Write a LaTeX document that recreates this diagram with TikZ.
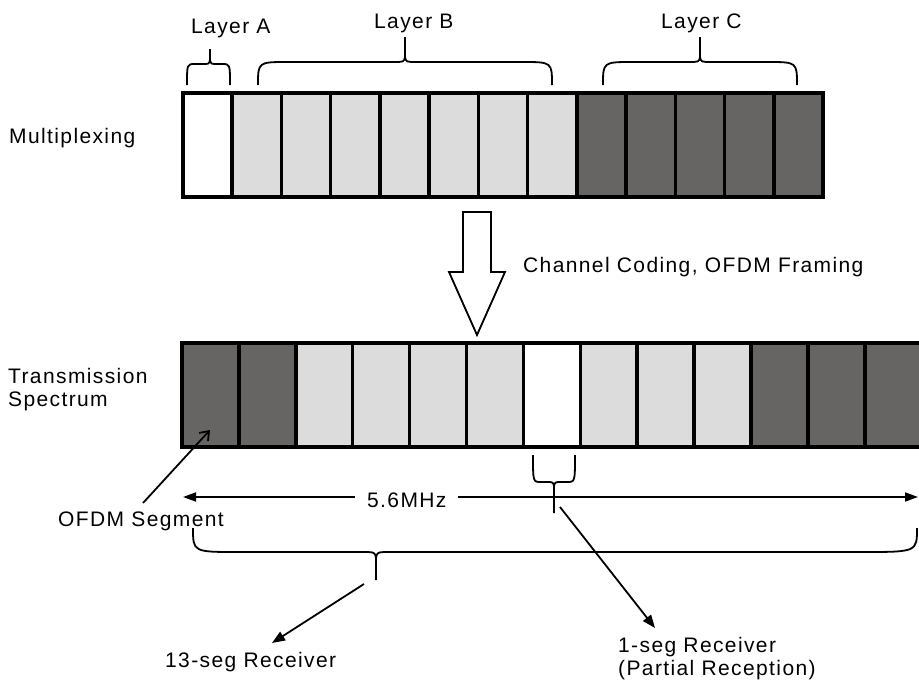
\documentclass[tikz,border=0pt]{standalone}
\usepackage{fontspec}
\setmainfont{Liberation Sans}[LetterSpace=6.6]
\usetikzlibrary{arrows.meta}
\definecolor{lg}{RGB}{220,220,220}
\definecolor{dg}{RGB}{102,101,99}
\tikzset{
  lbl/.style={inner sep=0pt, anchor=base west, font=\fontsize{21}{23}\selectfont},
  cellline/.style={line width=3.5pt},
  brc/.style={line width=1.8pt, line join=round},
  conn/.style={line width=1.8pt},
  filltip/.style={-{Triangle[length=13pt,width=10pt]}},
  opentip/.style={-{Straight Barb[length=8pt,width=12pt,line width=1.8pt]}},
}
\begin{document}
\begin{tikzpicture}[x=1pt,y=-1pt]
\useasboundingbox (0,0) rectangle (919,680);

% ---------- top bar (Multiplexing) ----------
\def\tx{183}\def\tw{49.23}
\foreach \i in {1,...,7}{\fill[lg] ({\tx+\i*\tw},93) rectangle ({\tx+(\i+1)*\tw},197);}
\foreach \i in {8,...,12}{\fill[dg] ({\tx+\i*\tw},93) rectangle ({\tx+(\i+1)*\tw},197);}
\foreach \i in {1,...,12}{\draw[cellline] ({\tx+\i*\tw},93) -- ({\tx+\i*\tw},197);}
\draw[cellline] (183,93) rectangle (823,197);

% ---------- bottom bar (Transmission spectrum) ----------
\def\bx{182}\def\bw{56.9}
\foreach \i in {0,1,10,11,12}{\fill[dg] ({\bx+\i*\bw},343) rectangle ({\bx+(\i+1)*\bw},447);}
\foreach \i in {2,3,4,5,7,8,9}{\fill[lg] ({\bx+\i*\bw},343) rectangle ({\bx+(\i+1)*\bw},447);}
\foreach \i in {1,...,12}{\draw[cellline] ({\bx+\i*\bw},343) -- ({\bx+\i*\bw},447);}
\draw[cellline] (182,343) rectangle (922,447);

% ---------- labels ----------
\node[lbl] (mux) at (9,143) {Multiplexing};
\node[lbl, align=left] (tsp) at (8,406) {Transmission\\Spectrum};
\node[lbl] (la) at (191,33) {Layer A};
\node[lbl] (lb) at (374,28) {Layer B};
\node[lbl] (lc) at (661,28) {Layer C};
\node[lbl] (cc) at (523,272) {Channel Coding, OFDM Framing};
\node[lbl] (seg) at (58,526) {OFDM Segment};
\node[lbl] (r13) at (165,667) {13-seg Receiver};
\node[lbl, align=left] (r1) at (618,675) {1-seg Receiver\\(Partial Reception)};

% ---------- top braces ----------
% Layer A
\draw[brc] (187,85) .. controls (187,64) .. (195,64) -- (203,64) .. controls (209,64) .. (210,60) -- (210,49);
\draw[brc] (230,85) .. controls (230,64) .. (222,64) -- (217,64) .. controls (211,64) .. (210,60);
% Layer B
\draw[brc] (258,85) .. controls (258,62) .. (288,62) -- (393,62) .. controls (404,62) .. (405,57) -- (405,37);
\draw[brc] (552,85) .. controls (552,62) .. (522,62) -- (417,62) .. controls (406,62) .. (405,57);
% Layer C
\draw[brc] (603,85) .. controls (603,62) .. (633,62) -- (688,62) .. controls (699,62) .. (700,57) -- (700,37);
\draw[brc] (797,85) .. controls (797,62) .. (767,62) -- (712,62) .. controls (701,62) .. (700,57);

% ---------- block arrow ----------
\draw[line width=1.8pt, fill=white, line join=miter]
  (463,212) -- (491,212) -- (491,272) -- (505,272) -- (477,335) -- (449,272) -- (463,272) -- cycle;

% ---------- bandwidth arrow ----------
\coordinate (bwl) at (183,497);
\coordinate (bwr) at (918,497);
\draw[conn, {Triangle[length=13pt,width=9pt]}-{Triangle[length=13pt,width=9pt]}] (bwl) -- (bwr);
\node[lbl, fill=white, inner xsep=12pt, inner ysep=3pt] (bwt) at (355,507) {5.6MHz};

% ---------- small brace (1-seg) ----------
\draw[brc] (533,455) .. controls (533,482) .. (541,482) -- (546,482) .. controls (553,482) .. (554,486) -- (554,513);
\draw[brc] (575,455) .. controls (575,482) .. (567,482) -- (562,482) .. controls (555,482) .. (554,486);

% ---------- big brace (13-seg) ----------
\draw[brc] (193,528) .. controls (193,552) .. (238,552) -- (360,552) .. controls (375,552) .. (376,558) -- (376,580);
\draw[brc] (917,528) .. controls (917,552) .. (862,552) -- (392,552) .. controls (377,552) .. (376,558);

% ---------- connectors ----------
\coordinate (segS) at (143,503);
\coordinate (segE) at (210,430);
\draw[conn, opentip] (segS) -- (segE);

\coordinate (b13) at (364,584);
\draw[conn, filltip] (b13) -- (272,643) coordinate (r13tip);

\coordinate (b1) at (560,507);
\draw[conn, filltip] (b1) -- (655,628) coordinate (r1tip);
\end{tikzpicture}
\end{document}
